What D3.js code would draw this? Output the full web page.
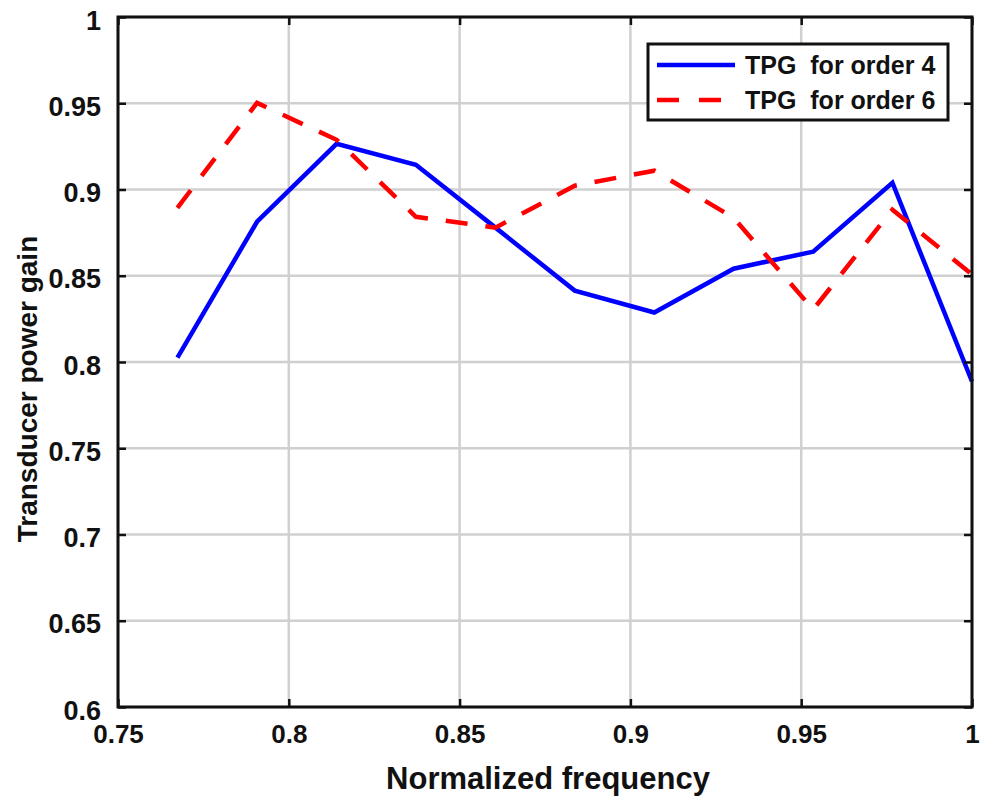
<!DOCTYPE html>
<html>
<head>
<meta charset="utf-8">
<script src="https://cdn.jsdelivr.net/npm/d3@7"></script>
<style>
  body { margin: 0; background: #fff; }
  text { font-family: "Liberation Sans", Arial, sans-serif; font-weight: bold; fill: #111; }
</style>
</head>
<body>
<script>
// frequency points (normalized)
const freq = [0.7674, 0.7907, 0.8140, 0.8372, 0.8605, 0.8837, 0.9070, 0.9302, 0.9535, 0.9767, 1.0];
const tpgOrder4 = [0.8026, 0.8813, 0.9265, 0.9143, 0.8779, 0.8414, 0.8287, 0.8541, 0.8640, 0.9039, 0.7887];
const tpgOrder6 = [0.8894, 0.9502, 0.9288, 0.8842, 0.8779, 0.9022, 0.9109, 0.8836, 0.8304, 0.8883, 0.8507];
const xTicks = [0.75, 0.8, 0.85, 0.9, 0.95, 1];
const yTicks = [0.6, 0.65, 0.7, 0.75, 0.8, 0.85, 0.9, 0.95, 1];
const seriesNames = ["TPG  for order 4", "TPG  for order 6"];

const w = 988, h = 797;
const pLeft = 118, pRight = 972, pTop = 17, pBottom = 707;

const svg = d3.select("body").append("svg")
  .attr("width", w)
  .attr("height", h);

const xScale = d3.scaleLinear().domain([0.75, 1]).range([pLeft, pRight]);
const yScale = d3.scaleLinear().domain([0.6, 1]).range([pBottom, pTop]);

// grid
svg.append("g").selectAll("line")
  .data(xTicks)
  .enter().append("line")
  .attr("x1", d => xScale(d)).attr("x2", d => xScale(d))
  .attr("y1", pTop).attr("y2", pBottom)
  .attr("stroke", "#d0d0d0").attr("stroke-width", 2.5);
svg.append("g").selectAll("line")
  .data(yTicks)
  .enter().append("line")
  .attr("x1", pLeft).attr("x2", pRight)
  .attr("y1", d => yScale(d)).attr("y2", d => yScale(d))
  .attr("stroke", "#d0d0d0").attr("stroke-width", 2.5);

// lines
const line = (vals) => d3.line()
  .x((d, i) => xScale(freq[i]))
  .y(d => yScale(d))(vals);

svg.append("path")
  .attr("d", line(tpgOrder4))
  .attr("fill", "none")
  .attr("stroke", "#0000ff")
  .attr("stroke-width", 4.5);

svg.append("path")
  .attr("d", line(tpgOrder6))
  .attr("fill", "none")
  .attr("stroke", "#ff0000")
  .attr("stroke-width", 4.5)
  .attr("stroke-dasharray", "22,18");

// axes (ticks pointing inward, box on)
const styleAxis = g => {
  g.select(".domain").remove();
  g.selectAll(".tick line").attr("stroke", "#111").attr("stroke-width", 2.5);
};

svg.append("g")
  .attr("transform", `translate(0, ${pBottom})`)
  .call(d3.axisBottom(xScale).tickValues(xTicks).tickSize(-8).tickPadding(18).tickFormat(d3.format("~g")))
  .call(styleAxis)
  .call(g => g.selectAll("text").attr("font-size", 26).attr("font-family", null).attr("fill", "#111"));

svg.append("g")
  .attr("transform", `translate(${pLeft}, 0)`)
  .call(d3.axisLeft(yScale).tickValues(yTicks).tickSize(-8).tickPadding(17).tickFormat(d3.format("~g")))
  .call(styleAxis)
  .call(g => g.selectAll("text").attr("font-size", 27).attr("font-family", null).attr("fill", "#111").attr("dy", "0.45em"));

svg.append("g")
  .attr("transform", `translate(0, ${pTop})`)
  .call(d3.axisTop(xScale).tickValues(xTicks).tickSize(-8).tickFormat(""))
  .call(styleAxis);

svg.append("g")
  .attr("transform", `translate(${pRight}, 0)`)
  .call(d3.axisRight(yScale).tickValues(yTicks).tickSize(-8).tickFormat(""))
  .call(styleAxis);

svg.append("rect")
  .attr("x", pLeft).attr("y", pTop)
  .attr("width", pRight - pLeft).attr("height", pBottom - pTop)
  .attr("fill", "none").attr("stroke", "#111").attr("stroke-width", 3);

// axis titles
svg.append("text")
  .attr("x", 548)
  .attr("y", 789)
  .attr("text-anchor", "middle")
  .attr("font-size", 31)
  .text("Normalized frequency");

svg.append("text")
  .attr("transform", `translate(37, 389) rotate(-90)`)
  .attr("text-anchor", "middle")
  .attr("font-size", 28)
  .text("Transducer power gain");

// legend
const legend = svg.append("g");
legend.append("rect")
  .attr("x", 648).attr("y", 44)
  .attr("width", 300).attr("height", 76)
  .attr("fill", "#fff").attr("stroke", "#111").attr("stroke-width", 3);

const legendColors = ["#0000ff", "#ff0000"];
const legendDash = [null, "22,20"];
seriesNames.forEach((name, i) => {
  const yy = 65 + i * 35;
  legend.append("line")
    .attr("x1", 657).attr("x2", 735)
    .attr("y1", yy).attr("y2", yy)
    .attr("stroke", legendColors[i])
    .attr("stroke-width", 4.5)
    .attr("stroke-dasharray", legendDash[i]);
  legend.append("text")
    .attr("x", 745).attr("y", yy)
    .attr("dy", "0.36em")
    .attr("font-size", 25)
    .style("white-space", "pre")
    .text(name);
});
</script>
</body>
</html>
